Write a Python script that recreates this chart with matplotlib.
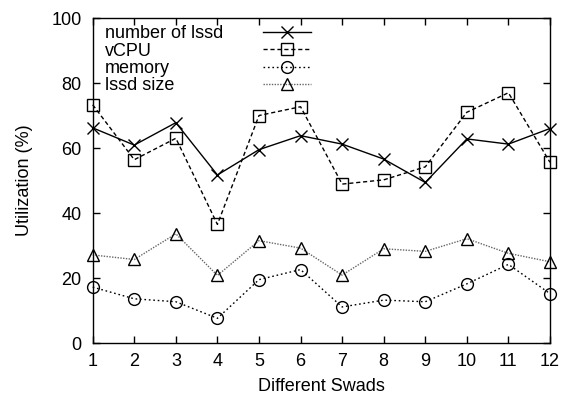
import matplotlib
matplotlib.use("Agg")
import matplotlib.pyplot as plt

swads = [1, 2, 3, 4, 5, 6, 7, 8, 9, 10, 11, 12]
num_lssd = [66.2, 60.9, 67.8, 51.7, 59.5, 63.8, 61.2, 56.6, 49.4, 62.8, 61.2, 66.0]
vcpu = [73.3, 56.4, 63.0, 36.5, 70.0, 72.7, 48.9, 50.2, 54.2, 71.0, 77.0, 55.6]
memory = [17.2, 13.6, 12.7, 7.6, 19.5, 22.6, 11.1, 13.2, 12.7, 18.2, 24.2, 15.2]
lssd_size = [27.1, 25.7, 33.6, 20.8, 31.5, 29.2, 20.9, 29.0, 28.2, 32.1, 27.6, 25.0]


def main():
    plt.rcParams['font.family'] = ['Liberation Sans', 'DejaVu Sans']
    plt.rcParams['font.size'] = 13

    fig = plt.figure(figsize=(5.66, 3.95), dpi=100)
    ax = fig.add_axes([0.1638, 0.1316, 0.8079, 0.8228])

    ax.plot(swads, num_lssd, color='black', lw=1.0, ls='-', marker='x',
            ms=8, mew=1.0, label='number of lssd', clip_on=False)
    ax.plot(swads, vcpu, color='black', lw=1.0, ls=(0, (3, 2)), marker='s',
            ms=8.5, mfc='none', mew=1.0, label='vCPU', clip_on=False)
    ax.plot(swads, memory, color='black', lw=1.0, ls=(0, (1.2, 2)), marker='o',
            ms=8.5, mfc='none', mew=1.0, label='memory', clip_on=False)
    ax.plot(swads, lssd_size, color='#666666', lw=1.0, ls=(0, (1, 1)), marker='^',
            ms=9, mfc='none', mec='black', mew=1.0, label='lssd size', clip_on=False)

    ax.set_xlim(1, 12)
    ax.set_ylim(0, 100)
    ax.set_xticks(swads)
    ax.set_yticks([0, 20, 40, 60, 80, 100])
    ax.tick_params(direction='in', top=True, right=True, length=5, width=1)
    ax.tick_params(axis='y', pad=8)
    ax.tick_params(axis='x', pad=7)
    for s in ax.spines.values():
        s.set_linewidth(1.0)

    ax.set_xlabel("Different Swads", labelpad=6)
    ax.set_ylabel("Utilization (%)", labelpad=13)

    leg = ax.legend(loc='upper left', bbox_to_anchor=(0.011, 1.0), frameon=False,
                    markerfirst=False, handlelength=2.65, labelspacing=0.02,
                    borderaxespad=0.2, borderpad=0.2, handletextpad=1.0)

    # left-align legend text: pad each row so the samples line up on the right
    fig.canvas.draw()
    renderer = fig.canvas.get_renderer()
    widths = [t.get_window_extent(renderer).width for t in leg.get_texts()]
    maxw = max(widths)
    column = leg._legend_handle_box.get_children()[0]
    for item, w in zip(column.get_children(), widths):
        item.sep = 29 + (maxw - w) * 72.0 / fig.dpi

    fig.savefig("out.png", dpi=100)


if __name__ == "__main__":

    main()
